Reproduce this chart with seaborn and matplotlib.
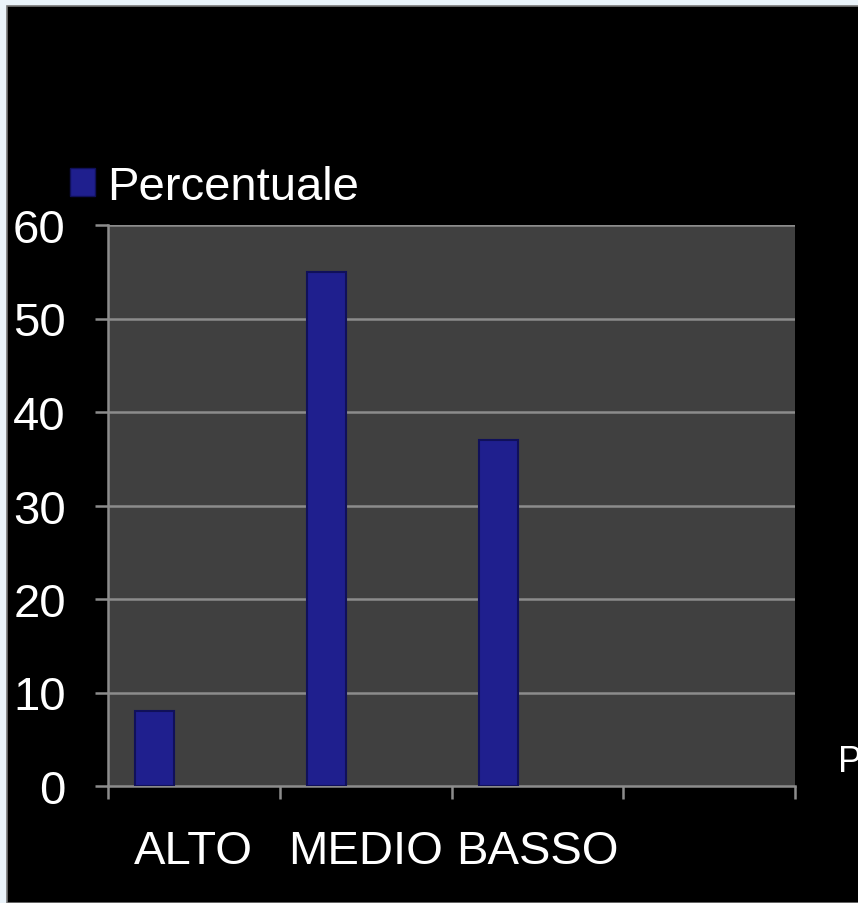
import seaborn as sns
import pandas as pd
import matplotlib.pyplot as plt
from matplotlib.patches import Rectangle, Patch

# chart data
categories = ["ALTO", "MEDIO", "BASSO", ""]
values = [8, 55, 37]
series = "Percentuale"
# the original chart reserves room for three series per slot, only one is filled
series_order = ["Percentuale", "Serie 2", "Serie 3"]
y_ticks = [0, 10, 20, 30, 40, 50, 60]

df = pd.DataFrame({"categoria": categories[:3], "valore": values, "serie": series})

sns.set_style("dark")
plt.rcParams["font.family"] = ["Liberation Sans", "DejaVu Sans"]

fig = plt.figure(figsize=(8.58, 9.04), dpi=100, facecolor="#eaf3fa")
# black slide panel behind the chart
fig.patches.append(Rectangle((7 / 858, 0), 1, (904 - 7) / 904, transform=fig.transFigure,
                             facecolor="black", edgecolor="#777777", lw=1.2, zorder=-5))

ax = fig.add_axes([108 / 858, 117 / 904, 687 / 858, 561 / 904])
ax.set_facecolor("#404040")

navy = "#1f1f8e"
sns.barplot(data=df, x="categoria", y="valore", hue="serie", order=categories,
            hue_order=series_order, palette=[navy, navy, navy], width=0.68, dodge=True,
            saturation=1, edgecolor="#10105a", linewidth=1.5, legend=False, ax=ax, zorder=3)

ax.set_ylim(0, 60)
ax.set_xlim(-0.5, 3.5)
ax.set_yticks(y_ticks)
ax.set_xlabel("")
ax.set_ylabel("")

grid_col = "#8c8c8c"
ax.grid(False)
for y in y_ticks[1:]:
    ax.axhline(y, color=grid_col, lw=1.8, zorder=1)

for s in ["top", "right"]:
    ax.spines[s].set_visible(False)
for s in ["left", "bottom"]:
    ax.spines[s].set_visible(True)
    ax.spines[s].set_color(grid_col)
    ax.spines[s].set_linewidth(1.8)

ax.tick_params(axis="y", colors="white", labelsize=34, length=9.4, width=1.8,
               color=grid_col, pad=21, left=True)
ax.set_xticks([-0.5, 0.5, 1.5, 2.5, 3.5], minor=True)
ax.tick_params(axis="x", which="minor", length=9.4, width=1.8, color=grid_col, bottom=True)
ax.tick_params(axis="x", which="major", colors="white", labelsize=34, length=0, pad=31)

ax.legend(handles=[Patch(facecolor=navy, edgecolor="#10105a", label=series)],
          loc="center left", bbox_to_anchor=(70 / 858, (904 - 188) / 904),
          bbox_transform=fig.transFigure, frameon=False, fontsize=34,
          handlelength=0.53, handleheight=0.53, handletextpad=0.26,
          borderpad=0, borderaxespad=0, labelcolor="white")

# partly visible label of a neighbouring chart, cut by the right edge as in the original
fig.text(838 / 858, (904 - 763) / 904, "P", color="white", fontsize=26, va="center", ha="left")

fig.savefig("out.png", dpi=100, facecolor=fig.get_facecolor())
